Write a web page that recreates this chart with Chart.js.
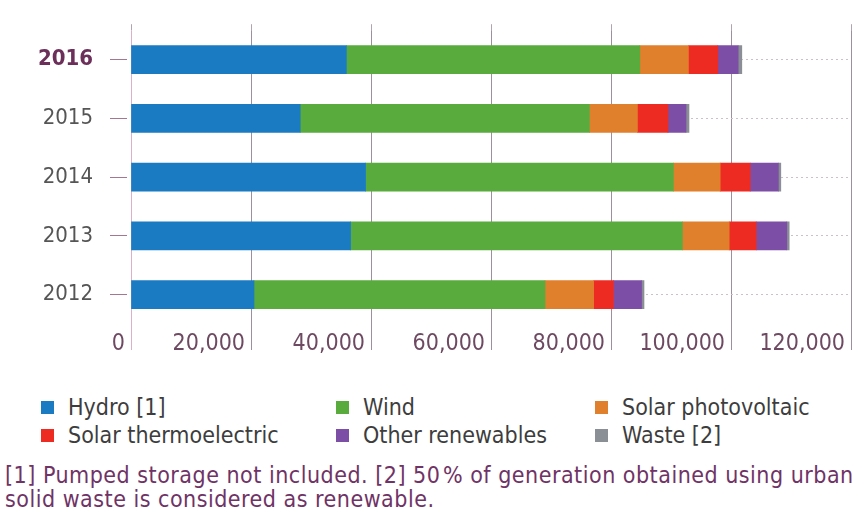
<!DOCTYPE html>
<html>
<head>
<meta charset="utf-8">
<script src="https://cdn.jsdelivr.net/npm/chart.js@4.4.0/dist/chart.umd.min.js"></script>
<style>
  body { margin: 0; background: #fff; width: 860px; height: 510px; overflow: hidden;
         font-family: 'DejaVu Sans Condensed', 'Liberation Sans Narrow', sans-serif; }
  #wrap { position: absolute; left: 0; top: 0; width: 860px; height: 360px; }
  .item { position: absolute; font-size: 23px; color: #3d3d3d; white-space: nowrap; line-height: 28px; }
  .item .box { display: inline-block; width: 13px; height: 13px; margin-right: 14px; vertical-align: 1px; }
  #note { position: absolute; left: 5px; top: 463px; width: 855px; font-size: 23px; line-height: 24px;
          letter-spacing: 0.5px; color: #6f3366; }
</style>
</head>
<body>
<div id="wrap"><canvas id="myChart"></canvas></div>
<div id="legend"></div>
<div id="note">[1] Pumped storage not included. [2] 50&#8202;% of generation obtained using urban solid waste is considered as renewable.</div>
<script>
/* data (GWh) */
const years = ['2016', '2015', '2014', '2013', '2012'];
const hydro = [35900, 28200, 39100, 36600, 20500];
const wind = [48900, 48200, 51300, 55300, 48500];
const solarPV = [8100, 8000, 7800, 7800, 8100];
const solarThermo = [4900, 5100, 5000, 4500, 3300];
const otherRenew = [3400, 3000, 4700, 5100, 4700];
const waste = [600, 500, 400, 400, 400];
const xTicks = [0, 20000, 40000, 60000, 80000, 100000, 120000];

const FONT = "'DejaVu Sans Condensed', 'Liberation Sans Narrow', sans-serif";

const series = [
  { label: 'Hydro [1]', data: hydro, color: '#1a7bc2' },
  { label: 'Wind', data: wind, color: '#5aab3e' },
  { label: 'Solar photovoltaic', data: solarPV, color: '#e07f2c' },
  { label: 'Solar thermoelectric', data: solarThermo, color: '#ee2b22' },
  { label: 'Other renewables', data: otherRenew, color: '#7d4ea6' },
  { label: 'Waste [2]', data: waste, color: '#8a8f96' },
];

/* bars */
let ctx = document.querySelector('#myChart').getContext('2d');
let myChart = new Chart(ctx, {
  type: 'bar',
  data: {
    labels: years,
    datasets: series.map(s => ({
      label: s.label,
      data: s.data,
      backgroundColor: s.color,
      borderWidth: 0,
      barThickness: 28,
    })),
  },
  options: {
    indexAxis: 'y',
    responsive: true,
    maintainAspectRatio: false,
    animation: false,
    layout: { padding: { left: 0, right: 9, top: 0, bottom: 0 } },
    plugins: {
      legend: { display: false },
      tooltip: { enabled: false },
    },
    scales: {
      x: {
        stacked: true,
        min: 0,
        max: 120000,
        afterBuildTicks: (scale) => { scale.ticks = xTicks.map(v => ({ value: v })); },
        afterFit: (scale) => { scale.height = 36; },
        border: { display: false },
        grid: {
          color: (c) => c.index === 0 ? '#dcb0c6' : '#9d8f9b',
          tickColor: (c) => c.index === 0 ? '#dcb0c6' : '#9d8f9b',
          lineWidth: 1,
          tickLength: 26,
        },
        ticks: {
          align: 'end',
          labelOffset: -6,
          padding: -20,
          color: '#6e4a62',
          font: { family: FONT, size: 23 },
          callback: (v) => v.toLocaleString('en-US'),
        },
      },
      x2: {
        position: 'top',
        min: 0,
        max: 120000,
        afterBuildTicks: (scale) => { scale.ticks = xTicks.map(v => ({ value: v })); },
        afterFit: (scale) => { scale.height = 22; },
        border: { display: false },
        grid: { drawOnChartArea: false, tickLength: 6, tickColor: '#b0a4ae' },
        ticks: { callback: () => '' },
      },
      y: {
        stacked: true,
        afterFit: (scale) => { scale.width = 131; },
        border: { display: false, dash: [2, 3] },
        grid: {
          offset: false,
          color: '#c9c2c8',
          lineWidth: 1,
          tickLength: 21,
          tickColor: '#a57592',
          tickBorderDash: [17, 10],
        },
        ticks: {
          padding: 17,
          color: (c) => c.index === 0 ? '#6b2f5a' : '#555555',
          font: (c) => ({ family: FONT, size: 22, weight: c.index === 0 ? 'bold' : 'normal' }),
        },
      },
    },
  },
});

/* legend in 3 columns */
const legendCols = [41, 336, 595];
const legendRows = [393, 421];
let legend = document.getElementById('legend');
series.forEach((s, i) => {
  let el = document.createElement('div');
  el.className = 'item';
  el.style.left = legendCols[i % 3] + 'px';
  el.style.top = legendRows[Math.floor(i / 3)] + 'px';
  el.innerHTML = '<span class="box" style="background:' + s.color + '"></span>' + s.label;
  legend.appendChild(el);
});
</script>
</body>
</html>
